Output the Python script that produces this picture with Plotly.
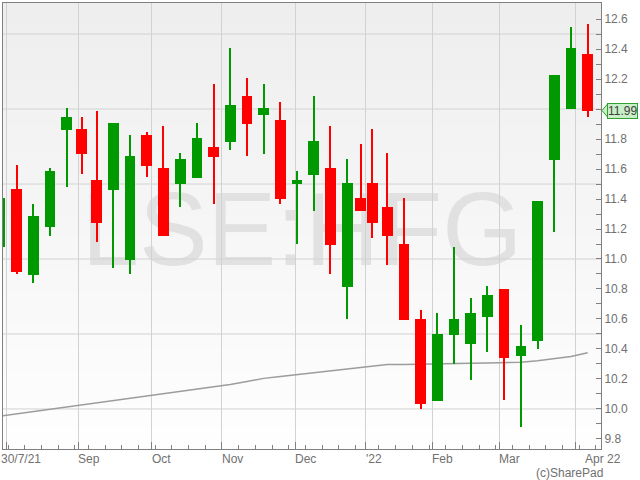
import numpy as np
import plotly.graph_objects as go

# weekly candles (Monday of each week), price in GBP
week_start = [
    "2021-07-26", "2021-08-02", "2021-08-09", "2021-08-16", "2021-08-23", "2021-08-30",
    "2021-09-06", "2021-09-13", "2021-09-20", "2021-09-27", "2021-10-04", "2021-10-11",
    "2021-10-18", "2021-10-25", "2021-11-01", "2021-11-08", "2021-11-15", "2021-11-22",
    "2021-11-29", "2021-12-06", "2021-12-13", "2021-12-20", "2021-12-27", "2022-01-03",
    "2022-01-10", "2022-01-17", "2022-01-24", "2022-01-31", "2022-02-07", "2022-02-14",
    "2022-02-21", "2022-02-28", "2022-03-07", "2022-03-14", "2022-03-21", "2022-03-28",
    "2022-04-04",
]
open_ = [11.08, 11.47, 10.895, 11.215, 11.86, 11.867, 11.527, 11.46, 10.995, 11.827, 11.607, 11.502,
         11.542, 11.747, 11.782, 12.087, 11.962, 11.927, 11.502, 11.562, 11.607, 10.815, 11.407, 11.507,
         11.347, 11.10, 10.60, 10.055, 10.495, 10.435, 10.615, 10.80, 10.353, 10.455, 11.66, 12.002,
         12.367]
high = [11.45, 11.63, 11.37, 11.607, 12.007, 11.947, 11.987, 11.907, 11.827, 11.847, 11.887, 11.707,
        11.907, 12.167, 12.404, 12.205, 12.165, 12.045, 11.585, 12.085, 11.885, 11.665, 11.767, 11.865,
        11.705, 11.405, 10.66, 10.638, 11.078, 10.738, 10.818, 10.80, 10.558, 11.387, 12.225, 12.549,
        12.567]
low = [11.05, 10.90, 10.84, 11.155, 11.48, 11.565, 11.115, 10.94, 10.90, 11.545, 11.155, 11.345,
       11.54, 11.365, 11.725, 11.685, 11.702, 11.365, 11.098, 11.322, 10.898, 10.598, 11.322, 11.138,
       10.958, 10.595, 10.0, 10.055, 10.298, 10.195, 10.378, 10.058, 9.878, 10.398, 11.178, 12.0,
       11.945]
close = [11.41, 10.915, 11.29, 11.587, 11.947, 11.70, 11.24, 11.907, 11.687, 11.622, 11.155, 11.667,
         11.807, 11.682, 12.027, 11.902, 12.007, 11.402, 11.527, 11.787, 11.095, 11.507, 11.322, 11.242,
         11.155, 10.595, 10.035, 10.50, 10.60, 10.638, 10.758, 10.338, 10.42, 11.387, 12.225, 12.405,
         11.99]
moving_avg = [9.952, 9.967, 9.983, 9.998, 10.014, 10.028, 10.041, 10.055, 10.070, 10.085, 10.100, 10.115,
              10.130, 10.145, 10.163, 10.183, 10.204, 10.216, 10.228, 10.241, 10.253, 10.264, 10.274, 10.283,
              10.296, 10.297, 10.298, 10.298, 10.301, 10.304, 10.307, 10.309, 10.311, 10.322, 10.335, 10.350,
              10.375]

# trading-day axis (weekends and UK bank holidays removed)
first_day = "2021-07-30"
holidays = ["2021-08-30", "2021-12-27", "2021-12-28", "2022-01-03", "2022-04-15", "2022-04-18"]
month_starts = ["2021-09-01", "2021-10-01", "2021-11-01", "2021-12-01", "2022-01-01",
                "2022-02-01", "2022-03-01", "2022-04-01"]
month_labels = ["Sep", "Oct", "Nov", "Dec", "'22", "Feb", "Mar"]
y_ticks = [round(9.8 + 0.1 * i, 1) for i in range(29)]
y_grid = [10.0, 10.5, 11.0, 11.5, 12.0, 12.5]


def day_pos(d):
    return np.busday_count(first_day, d, holidays=holidays)


ws = np.array(week_start, dtype="datetime64[D]")
x = (day_pos(ws) + day_pos(ws + 7)) / 2
o, h, l, c = map(np.array, (open_, high, low, close))
colors = np.where(c >= o, "#009900", "#ff0000")

month_pos = day_pos(np.array(month_starts, dtype="datetime64[D]"))
week_ticks = day_pos(np.arange(np.datetime64("2021-08-02"), np.datetime64("2022-04-18"), 7))

fig = go.Figure()
# moving average sits on the base axes so the candles (on the overlay axes) cover it
fig.add_trace(go.Scatter(x=x, y=moving_avg, mode="lines",
                         line=dict(color="#9c9c9c", width=1.5)))
# wicks
fig.add_trace(go.Bar(x=x, y=h - l, base=l, width=0.3, marker_color=colors,
                     marker_line_width=0, hoverinfo="skip", xaxis="x2", yaxis="y2"))
# bodies
fig.add_trace(go.Bar(x=x, y=np.maximum(np.abs(c - o), 0.004), base=np.minimum(o, c), width=3.2,
                     marker_color=colors, marker_line_width=0, xaxis="x2", yaxis="y2"))

shapes = []
# soft vertical gradient background
n = 40
for i in range(n):
    g = int(round(254 - 16 * i / (n - 1)))
    shapes.append(dict(type="rect", xref="paper", yref="paper", x0=0, x1=1,
                       y0=i / n, y1=(i + 1) / n + 0.002, layer="below",
                       fillcolor=f"rgb({g},{g},{g})", line_width=0))
# watermark
shapes.append(dict(type="rect", xref="paper", yref="paper", x0=0, x1=1, y0=0.031, y1=1,
                   layer="below", fillcolor="rgba(0,0,0,0)", line_width=0,
                   label=dict(text="LSE:HFG", textposition="middle center",
                              font=dict(family="Liberation Sans, Arial", size=103, color="#e1e1e1"))))
for v in y_grid:
    shapes.append(dict(type="line", xref="paper", yref="y", x0=0, x1=1, y0=v, y1=v,
                       layer="below", line=dict(color="#d2d2d2", width=1)))
# last-price flag pointer
shapes.append(dict(type="path", xref="paper", yref="y", xsizemode="pixel", ysizemode="pixel",
                   xanchor=1, yanchor=close[-1], path="M 1,0 L 7,7 L 7,-7 Z",
                   fillcolor="#c8efc8", line=dict(color="#2f9f2f", width=1)))

font = "Liberation Sans, Arial, sans-serif"
annotations = [
    dict(text="30/7/21", xref="paper", yref="paper", x=0, y=0, xanchor="left", yanchor="top",
         xshift=-4, yshift=-1, showarrow=False, font=dict(family=font, size=12, color="#707070")),
    dict(text="Apr 22", xref="paper", yref="paper", x=1, y=0, xanchor="right", yanchor="top",
         xshift=22, yshift=-1, showarrow=False, font=dict(family=font, size=12, color="#707070")),
    dict(text="(c)SharePad", xref="paper", yref="paper", x=1, y=0, xanchor="right", yanchor="top",
         xshift=4, yshift=-15, showarrow=False, font=dict(family=font, size=12, color="#707070")),
    dict(text=f"{close[-1]:.2f}", xref="paper", yref="y", x=1, y=close[-1], xanchor="left",
         yanchor="middle", xshift=6, showarrow=False, bgcolor="#c8efc8", bordercolor="#2f9f2f",
         borderwidth=1, borderpad=0, font=dict(family=font, size=12, color="#404040")),
]
for pos, lab in zip(month_pos, month_labels):
    annotations.append(dict(text=lab, xref="x", yref="paper", x=pos, y=0, xanchor="left",
                            yanchor="top", xshift=-2, yshift=-1, showarrow=False,
                            font=dict(family=font, size=12, color="#707070")))

# the last-price flag covers the label nearest to it
flag_hidden = round(close[-1], 1)
tick_text = [f"{v:.1f}" if i % 2 == 0 and v != flag_hidden else "" for i, v in enumerate(y_ticks)]

x_range = [-0.55, 178.5]
y_range = [9.733, 12.707]
fig.update_layout(
    width=640, height=480,
    margin=dict(l=3, r=39, t=3, b=31),
    paper_bgcolor="white", plot_bgcolor="#f6f6f6",
    barmode="overlay", bargap=0, showlegend=False,
    shapes=shapes, annotations=annotations,
    font=dict(family=font, size=12, color="#707070"),
    xaxis=dict(
        range=x_range, tickmode="array", tickvals=[0.5] + list(month_pos),
        showticklabels=False, ticks="inside", ticklen=7, tickcolor="#808080",
        showgrid=True, gridcolor="#d2d2d2", gridwidth=1, zeroline=False,
        showline=True, linecolor="#808080", linewidth=1, mirror=True,
        minor=dict(tickmode="array", tickvals=list(week_ticks), ticks="inside", ticklen=4,
                   tickcolor="#808080", showgrid=False),
    ),
    yaxis=dict(
        side="right", range=y_range, tickmode="array", tickvals=y_ticks, ticktext=tick_text,
        ticks="inside", ticklen=5, tickcolor="#808080", showgrid=False, zeroline=False,
        showline=True, linecolor="#808080", linewidth=1, mirror=True,
        tickfont=dict(family=font, size=12, color="#707070"),
    ),
    xaxis2=dict(range=x_range, overlaying="x", visible=False),
    yaxis2=dict(range=y_range, overlaying="y", visible=False),
)

fig.write_html("out.html", config={"displayModeBar": False},
               post_script="document.body.style.margin='0';")
